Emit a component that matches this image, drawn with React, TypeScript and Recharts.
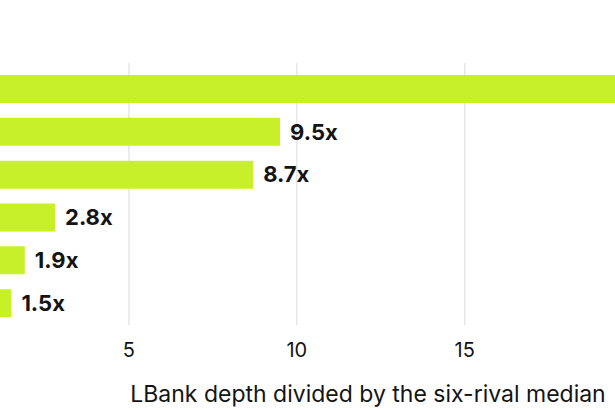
import React from 'react';
import { BarChart, Bar, XAxis, YAxis, CartesianGrid, LabelList, Label } from 'recharts';

const exchanges = ['A', 'B', 'C', 'D', 'E', 'F'];
const depthRatio = [21.6, 9.5, 8.7, 2.8, 1.9, 1.5];
const xTicks = [0, 5, 10, 15];

const data = exchanges.map((name, i) => ({ name, ratio: depthRatio[i] }));

const FONT = 'Inter, "Noto Sans", sans-serif';
const LIME = '#C8F028';
const INK = '#141414';

const App: React.FC = () => {
  return (
    <div style={{ position: 'absolute', left: 0, top: 0, width: 615, height: 410, overflow: 'hidden', background: '#fff' }}>
      <div style={{ position: 'absolute', left: -39, top: 0 }}>
        <BarChart
          width={845}
          height={410}
          data={data}
          layout="vertical"
          margin={{ top: 63, right: 39, left: 0, bottom: 0 }}
        >
          <CartesianGrid horizontal={false} stroke="#e6e6e6" strokeWidth={1.5} />
          <XAxis
            type="number"
            domain={[0, 24]}
            ticks={xTicks}
            axisLine={false}
            tickLine={false}
            tickSize={0}
            tickMargin={18}
            tick={{ fill: INK, fontSize: 20, fontFamily: FONT }}
            height={85}
          >
            <Label
              value="LBank depth divided by the six-rival median"
              position="insideBottom"
              offset={8}
              dx={4}
              style={{ fill: INK, fontSize: 23, fontFamily: FONT }}
            />
          </XAxis>
          <YAxis type="category" dataKey="name" hide width={0} padding={{ top: 5, bottom: 0 }} />
          <Bar dataKey="ratio" fill={LIME} barSize={28} isAnimationActive={false}>
            <LabelList
              dataKey="ratio"
              position="right"
              offset={10}
              formatter={(v: any) => `${v}x`}
              style={{ fill: INK, fontSize: 22, fontWeight: 700, fontFamily: FONT }}
            />
          </Bar>
        </BarChart>
      </div>
    </div>
  );
};

export default App;
